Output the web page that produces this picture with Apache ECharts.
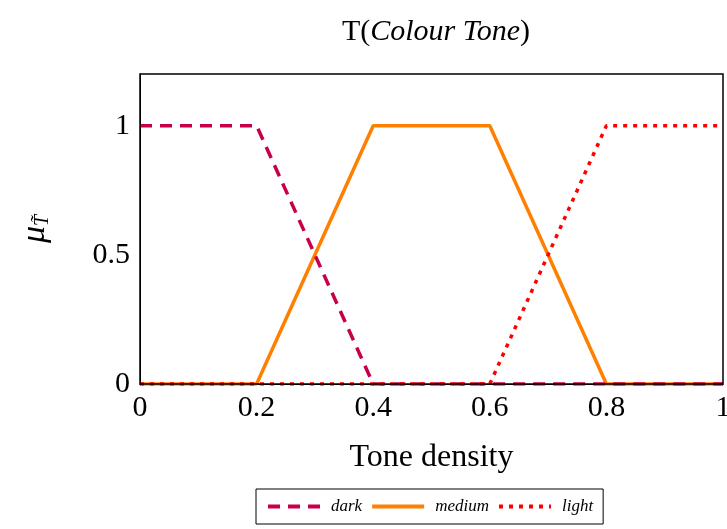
<!DOCTYPE html>
<html><head><meta charset="utf-8">
<script src="https://cdn.jsdelivr.net/npm/echarts@6/dist/echarts.min.js"></script>
<style>html,body{margin:0;padding:0;background:#fff}#c{width:727px;height:529px}</style>
</head><body><div id="c"></div>
<script>
const darkX = [0, 0.2, 0.4, 1];
const darkY = [1, 1, 0, 0];
const mediumX = [0, 0.2, 0.4, 0.6, 0.8, 1];
const mediumY = [0, 0, 1, 1, 0, 0];
const lightX = [0, 0.6, 0.8, 1];
const lightY = [0, 0, 1, 1];
const xTicks = [0, 0.2, 0.4, 0.6, 0.8, 1];
const yTicks = [0, 0.5, 1];

const pts = (xs, ys) => xs.map((x, i) => [x, ys[i]]);
const F = 'Liberation Serif';
const chart = echarts.init(document.getElementById('c'));
chart.setOption({
  animation: false,
  title: {
    text: '{n|T(}{i|Colour Tone}{n|)}',
    left: 431, top: 12, textAlign: 'center',
    textStyle: { fontWeight: 'normal', rich: {
      n: { fontFamily: F, fontSize: 30, fontWeight: 'normal', color: '#000' },
      i: { fontFamily: F, fontSize: 30, fontWeight: 'normal', fontStyle: 'italic', color: '#000' }
    } }
  },
  grid: { left: 140, right: 4, top: 74, bottom: 145, containLabel: false, outerBoundsMode: 'none' },
  xAxis: {
    type: 'value', min: 0, max: 1, interval: 0.2,
    name: 'Tone density', nameLocation: 'middle', nameGap: 58,
    nameTextStyle: { fontFamily: F, fontSize: 32, color: '#000' },
    axisLine: { show: true, lineStyle: { color: '#000', width: 1 } },
    axisTick: { show: false },
    splitLine: { show: false },
    axisLabel: { fontFamily: F, fontSize: 30, color: '#000', margin: 9,
      formatter: v => xTicks.includes(+v.toFixed(2)) ? String(+v.toFixed(2)) : '' }
  },
  yAxis: {
    type: 'value', min: 0, max: 1.2, interval: 0.5,
    name: '{m|μ}{s|T̃}', nameLocation: 'middle', nameGap: 87, nameRotate: 90,
    nameTextStyle: { rich: {
      m: { fontFamily: F, fontSize: 34, fontStyle: 'italic', color: '#000' },
      s: { fontFamily: F, fontSize: 20, fontStyle: 'italic', color: '#000', verticalAlign: 'bottom', padding: [16, 0, 0, 0] }
    } },
    axisLine: { show: true, lineStyle: { color: '#000', width: 1 } },
    axisTick: { show: false },
    splitLine: { show: false },
    axisLabel: { fontFamily: F, fontSize: 30, color: '#000', margin: 10,
      formatter: v => yTicks.includes(v) ? String(v) : '' }
  },
  graphic: [{
    type: 'rect', shape: { x: 140, y: 74, width: 583, height: 310 },
    style: { fill: 'none', stroke: '#000', lineWidth: 1.5 }, z: 10, silent: true
  }],
  legend: {
    bottom: 5, left: 256,
    borderColor: '#000', borderWidth: 1, padding: [9, 10, 9, 10],
    itemWidth: 52, itemHeight: 14, itemGap: 8,
    itemStyle: { opacity: 0 },
    lineStyle: { width: 4 },
    textStyle: { fontFamily: F, fontSize: 17, fontStyle: 'italic', color: '#000', padding: [0, 0, 0, 6] },
    data: ['dark', 'medium', 'light']
  },
  series: [
    { name: 'dark', type: 'line', data: pts(darkX, darkY), symbol: 'none', z: 3,
      lineStyle: { color: '#c8004b', width: 3.5, type: [12, 8] }, itemStyle: { color: '#c8004b' } },
    { name: 'medium', type: 'line', data: pts(mediumX, mediumY), symbol: 'none', z: 2,
      lineStyle: { color: '#ff8000', width: 3.5, type: 'solid' }, itemStyle: { color: '#ff8000' } },
    { name: 'light', type: 'line', data: pts(lightX, lightY), symbol: 'none', z: 4,
      lineStyle: { color: '#ff0000', width: 3.5, type: [4, 6] }, itemStyle: { color: '#ff0000' } }
  ]
});
</script></body></html>
